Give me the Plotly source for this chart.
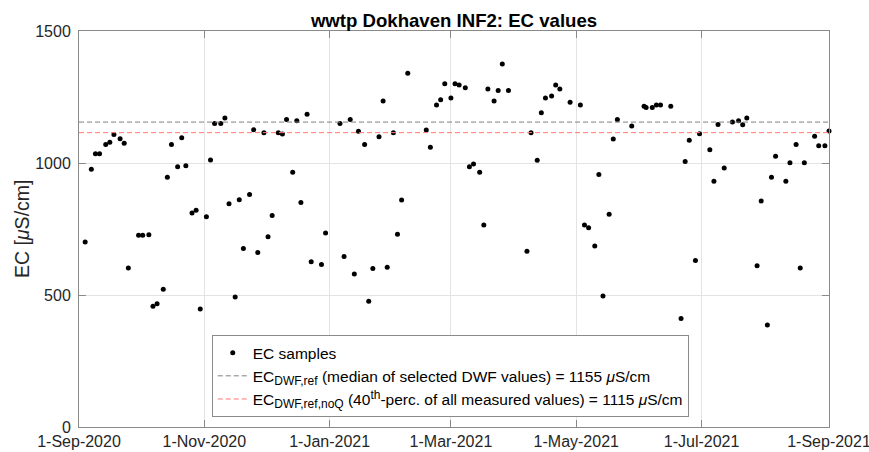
import plotly.graph_objects as go

# ---- data ----
sample_dates = [
    "2020-09-04", "2020-09-07", "2020-09-09", "2020-09-11", "2020-09-14", "2020-09-16",
    "2020-09-18", "2020-09-21", "2020-09-23", "2020-09-25", "2020-09-30", "2020-10-02",
    "2020-10-05", "2020-10-07", "2020-10-09", "2020-10-12", "2020-10-14", "2020-10-16",
    "2020-10-19", "2020-10-21", "2020-10-23", "2020-10-26", "2020-10-28", "2020-10-30",
    "2020-11-02", "2020-11-04", "2020-11-06", "2020-11-09", "2020-11-11", "2020-11-13",
    "2020-11-16", "2020-11-18", "2020-11-20", "2020-11-23", "2020-11-25", "2020-11-27",
    "2020-11-30", "2020-12-02", "2020-12-04", "2020-12-07", "2020-12-09", "2020-12-11",
    "2020-12-14", "2020-12-16", "2020-12-18", "2020-12-21", "2020-12-23", "2020-12-28",
    "2020-12-30", "2021-01-06", "2021-01-08", "2021-01-11", "2021-01-13", "2021-01-15",
    "2021-01-18", "2021-01-20", "2021-01-22", "2021-01-25", "2021-01-27", "2021-01-29",
    "2021-02-01", "2021-02-03", "2021-02-05", "2021-02-08", "2021-02-17", "2021-02-19",
    "2021-02-22", "2021-02-24", "2021-02-26", "2021-03-01", "2021-03-03", "2021-03-05",
    "2021-03-08", "2021-03-10", "2021-03-12", "2021-03-15", "2021-03-17", "2021-03-19",
    "2021-03-22", "2021-03-24", "2021-03-26", "2021-03-29", "2021-04-07", "2021-04-09",
    "2021-04-12", "2021-04-14", "2021-04-16", "2021-04-19", "2021-04-21", "2021-04-23",
    "2021-04-28", "2021-05-03", "2021-05-05", "2021-05-07", "2021-05-10", "2021-05-12",
    "2021-05-14", "2021-05-17", "2021-05-19", "2021-05-21", "2021-05-28", "2021-06-03",
    "2021-06-04", "2021-06-07", "2021-06-09", "2021-06-11", "2021-06-16", "2021-06-21",
    "2021-06-23", "2021-06-25", "2021-06-28", "2021-06-30", "2021-07-05", "2021-07-07",
    "2021-07-09", "2021-07-12", "2021-07-16", "2021-07-19", "2021-07-21", "2021-07-23",
    "2021-07-28", "2021-07-30", "2021-08-02", "2021-08-04", "2021-08-06", "2021-08-11",
    "2021-08-13", "2021-08-16", "2021-08-18", "2021-08-20", "2021-08-25", "2021-08-27",
    "2021-08-30", "2021-09-01",
]
ec_values = [
    701, 976, 1035, 1035, 1070, 1079,
    1108, 1092, 1075, 602, 726, 726,
    728, 457, 467, 522, 946, 1070,
    986, 1096, 990, 811, 821, 447,
    796, 1011, 1150, 1150, 1170, 846,
    492, 861, 676, 881, 1126, 661,
    1115, 721, 801, 1115, 1110, 1165,
    965, 1160, 850, 1185, 626, 616,
    735, 1150, 646, 1165, 580, 1120,
    1070, 476, 600, 1099, 1235, 605,
    1115, 730, 860, 1340, 1125, 1060,
    1220, 1240, 1300, 1246, 1300, 1295,
    1285, 986, 996, 965, 765, 1280,
    1235, 1275, 1375, 1275, 666, 1115,
    1010, 1190, 1246, 1254, 1295, 1280,
    1230, 1220, 765, 755, 686, 956,
    496, 806, 1091, 1165, 1140, 1215,
    1210, 1210, 1220, 1220, 1215, 411,
    1006, 1086, 631, 1111, 1050, 931,
    1146, 981, 1155, 1160, 1145, 1170,
    611, 856, 386, 946, 1026, 931,
    1001, 1070, 602, 1001, 1101, 1065,
    1065, 1121,
]
ec_dwf_ref = 1155
ec_dwf_ref_noq = 1115
x_range = ["2020-09-01", "2021-09-01"]
tick_dates = ["2020-09-01", "2020-11-01", "2021-01-01", "2021-03-01",
              "2021-05-01", "2021-07-01", "2021-09-01"]
tick_labels = ["1-Sep-2020", "1-Nov-2020", "1-Jan-2021", "1-Mar-2021",
               "1-May-2021", "1-Jul-2021", "1-Sep-2021"]
y_ticks = [0, 500, 1000, 1500]

FONT = "Liberation Sans, Arial, sans-serif"
AXIS_COL = "#8a8a8a"
TEXT_COL = "#262626"
SUB = '<sub><span style="font-size:12px">{}</span></sub>'
SUP = '<sup><span style="font-size:12px">{}</span></sup>'

W, H = 869, 452
L, R, T, B = 79, 40, 31, 25
PW = W - L - R

fig = go.Figure()
fig.add_trace(go.Scatter(
    x=sample_dates, y=ec_values, mode="markers",
    marker=dict(color="black", size=5),
    name="EC samples", cliponaxis=False,
))
fig.add_trace(go.Scatter(
    x=x_range, y=[ec_dwf_ref, ec_dwf_ref], mode="lines",
    line=dict(color="#808080", width=1, dash="5px,3px"),
    name="EC" + SUB.format("DWF,ref") + " (median of selected DWF values) = 1155 <i>μ</i>S/cm",
))
fig.add_trace(go.Scatter(
    x=x_range, y=[ec_dwf_ref_noq, ec_dwf_ref_noq], mode="lines",
    line=dict(color="#ff7878", width=1, dash="5px,3px"),
    name="EC" + SUB.format("DWF,ref,noQ") + " (40" + SUP.format("th")
         + "-perc. of all measured values) = 1115 <i>μ</i>S/cm",
))

fig.update_layout(
    width=W, height=H,
    margin=dict(l=L, r=R, t=T, b=B),
    paper_bgcolor="white", plot_bgcolor="white",
    font=dict(family=FONT, size=16, color=TEXT_COL),
    title=dict(text="<b>wwtp Dokhaven INF2: EC values</b>",
               x=(L + PW / 2) / W, xanchor="center",
               y=1 - 20 / H, yanchor="middle",
               font=dict(family=FONT, size=18.6, color="black")),
    showlegend=True,
    legend=dict(x=0.177, y=0.025, xanchor="left", yanchor="bottom",
                bgcolor="white", bordercolor=AXIS_COL, borderwidth=1,
                font=dict(family=FONT, size=15.5, color="black"),
                tracegroupgap=0, itemwidth=30),
    annotations=[dict(
        text="EC [<i>μ</i>S/cm]", textangle=-90,
        xref="paper", yref="paper", x=(22 - L) / PW, y=0.5,
        xanchor="center", yanchor="middle", showarrow=False,
        font=dict(family=FONT, size=19.5, color=TEXT_COL),
    )],
)
fig.update_xaxes(
    type="date", range=x_range, automargin=False,
    tickvals=tick_dates, ticktext=tick_labels, ticklabeloverflow="allow",
    ticks="inside", ticklen=7, tickcolor=AXIS_COL,
    showline=True, linecolor=AXIS_COL, linewidth=1, mirror="ticks",
    showgrid=True, gridcolor="#e3e3e3", gridwidth=1, zeroline=False,
    tickfont=dict(size=16, color=TEXT_COL),
)
fig.update_yaxes(
    range=[0, 1500], tickvals=y_ticks, automargin=False,
    ticks="inside", ticklen=7, tickcolor=AXIS_COL, ticklabelstandoff=4,
    showline=True, linecolor=AXIS_COL, linewidth=1, mirror="ticks",
    showgrid=True, gridcolor="#e3e3e3", gridwidth=1, zeroline=False,
    tickfont=dict(size=16, color=TEXT_COL),
)

fig.write_html(
    "out.html",
    config={"displayModeBar": False},
    post_script="document.body.style.margin='0';document.body.style.overflow='hidden';",
)
